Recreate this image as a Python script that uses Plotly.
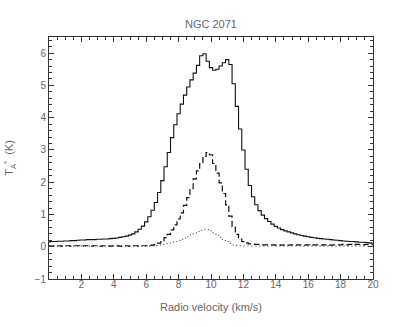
import plotly.graph_objects as go

# Radio velocity (km/s), channel centres every 0.2 km/s
velocity = [round(i * 0.2, 1) for i in range(101)]

# Solid spectrum (main line)
t_solid = [0.15, 0.16, 0.16, 0.17, 0.17, 0.18, 0.18, 0.19, 0.19, 0.20,
           0.21, 0.21, 0.22, 0.22, 0.22, 0.23, 0.23, 0.24, 0.24, 0.25,
           0.26, 0.27, 0.29, 0.31, 0.33, 0.36, 0.40, 0.46, 0.54, 0.64,
           0.77, 0.93, 1.13, 1.37, 1.68, 2.05, 2.48, 2.92, 3.38, 3.78,
           4.12, 4.42, 4.70, 4.95, 5.17, 5.38, 5.62, 5.92, 5.98, 5.75,
           5.55, 5.47, 5.50, 5.60, 5.70, 5.80, 5.65, 5.05, 4.35, 3.65,
           3.00, 2.40, 1.90, 1.55, 1.30, 1.12, 0.98, 0.87, 0.78, 0.70,
           0.63, 0.58, 0.53, 0.49, 0.46, 0.43, 0.40, 0.37, 0.35, 0.33,
           0.31, 0.29, 0.28, 0.26, 0.25, 0.24, 0.23, 0.22, 0.21, 0.20,
           0.19, 0.18, 0.17, 0.16, 0.16, 0.15, 0.14, 0.14, 0.13, 0.12,
           0.11]

# Dashed spectrum
t_dashed = [0.03, 0.02, 0.03, 0.03, 0.02, 0.03, 0.03, 0.02, 0.03, 0.03,
            0.02, 0.03, 0.03, 0.02, 0.03, 0.03, 0.02, 0.03, 0.03, 0.02,
            0.03, 0.03, 0.02, 0.03, 0.03, 0.02, 0.03, 0.03, 0.02, 0.03,
            0.03, 0.04, 0.05, 0.07, 0.11, 0.18, 0.28, 0.38, 0.52, 0.68,
            0.86, 1.05, 1.28, 1.52, 1.80, 2.10, 2.35, 2.58, 2.80, 2.92,
            2.85, 2.58, 2.28, 1.98, 1.65, 1.30, 0.95, 0.62, 0.38, 0.24,
            0.16, 0.12, 0.09, 0.08, 0.07, 0.07, 0.06, 0.06, 0.06, 0.06,
            0.05, 0.06, 0.05, 0.06, 0.05, 0.06, 0.05, 0.06, 0.06, 0.05,
            0.06, 0.05, 0.06, 0.06, 0.05, 0.06, 0.06, 0.05, 0.06, 0.06,
            0.06, 0.07, 0.06, 0.07, 0.06, 0.07, 0.07, 0.06, 0.07, 0.07,
            0.07]

# Dotted spectrum
t_dotted = [0.02, 0.02, 0.02, 0.02, 0.02, 0.02, 0.02, 0.02, 0.02, 0.02,
            0.02, 0.02, 0.02, 0.02, 0.02, 0.02, 0.02, 0.02, 0.02, 0.02,
            0.02, 0.02, 0.02, 0.02, 0.02, 0.02, 0.02, 0.02, 0.02, 0.02,
            0.02, 0.02, 0.03, 0.04, 0.05, 0.07, 0.09, 0.11, 0.14, 0.16,
            0.19, 0.23, 0.27, 0.32, 0.37, 0.42, 0.47, 0.51, 0.54, 0.53,
            0.49, 0.43, 0.36, 0.29, 0.22, 0.16, 0.10, 0.06, 0.04, 0.03,
            0.02, 0.02, 0.02, 0.02, 0.02, 0.02, 0.02, 0.02, 0.02, 0.02,
            0.02, 0.02, 0.02, 0.02, 0.02, 0.02, 0.02, 0.02, 0.02, 0.02,
            0.02, 0.02, 0.02, 0.02, 0.02, 0.02, 0.02, 0.02, 0.02, 0.02,
            0.02, 0.02, 0.02, 0.02, 0.02, 0.02, 0.02, 0.02, 0.02, 0.02,
            0.02]

x_ticks = [2, 4, 6, 8, 10, 12, 14, 16, 18, 20]
y_ticks = [-1, 0, 1, 2, 3, 4, 5, 6]

fig = go.Figure()
fig.add_trace(go.Scatter(x=velocity, y=t_dotted, mode="lines", line_shape="hvh",
                         line=dict(color="#222", width=1, dash="1px,3px"), showlegend=False))
fig.add_trace(go.Scatter(x=velocity, y=t_dashed, mode="lines", line_shape="hvh",
                         line=dict(color="#111", width=1.2, dash="6px,3px"), showlegend=False))
fig.add_trace(go.Scatter(x=velocity, y=t_solid, mode="lines", line_shape="hvh",
                         line=dict(color="#111", width=1.1), showlegend=False))

font_col = "#666"
fig.update_layout(
    width=395, height=327,
    margin=dict(l=49, r=22, t=37, b=48, autoexpand=False),
    paper_bgcolor="white", plot_bgcolor="white",
    font=dict(family="Liberation Sans, Arial, sans-serif", size=10, color=font_col),
    title=dict(text="NGC 2071", x=0.534, xanchor="center", y=0.925, yanchor="middle",
               font=dict(size=11, color=font_col)),
    xaxis=dict(range=[0, 20], tickmode="array", tickvals=x_ticks, automargin=False,
               ticks="inside", ticklen=5, tickcolor="#333", mirror="allticks",
               showline=True, linecolor="#333", linewidth=1, showgrid=False, zeroline=False,
               minor=dict(dtick=0.5, ticks="inside", ticklen=3, tickcolor="#333"),
               tickfont=dict(size=10, color=font_col), ticklabelstandoff=-4,
               title=dict(text="Radio velocity (km/s)", standoff=14,
                          font=dict(size=11, color=font_col))),
    yaxis=dict(range=[-1, 6.5], tickmode="array", tickvals=y_ticks, automargin=False,
               ticks="inside", ticklen=5, tickcolor="#333", mirror="allticks",
               showline=True, linecolor="#333", linewidth=1, showgrid=False, zeroline=False,
               minor=dict(dtick=0.2, ticks="inside", ticklen=3, tickcolor="#333"),
               tickfont=dict(size=10, color=font_col),
               title=dict(text="T<sub>A</sub><sup>*</sup>  (K)", standoff=18,
                          font=dict(size=11, color=font_col))),
)

fig.write_html("out.html", config={"displayModeBar": False},
               post_script="document.body.style.margin='0';document.body.style.overflow='hidden';")
